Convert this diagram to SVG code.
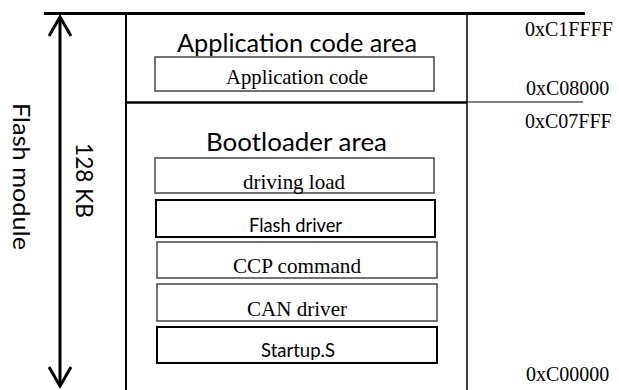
<svg xmlns="http://www.w3.org/2000/svg" width="619" height="390" viewBox="0 0 619 390">
  <style>
    .sans { font-family: Lato, "Noto Sans", "Liberation Sans", sans-serif; fill: #000; }
    .serif { font-family: "Liberation Serif", "Times New Roman", serif; fill: #000; }
    .title { font-size: 25px; text-anchor: middle; }
    .box { fill: #fff; stroke: #444; stroke-width: 1.5; }
    .box-dark { fill: #fff; stroke: #000; stroke-width: 2; }
    .label { font-size: 21px; text-anchor: middle; }
    .addr { font-size: 20px; }
    .frame { stroke: #000; fill: none; }
  </style>
  <defs>
    <marker id="chev" viewBox="-24 -14 28 28" markerWidth="28" markerHeight="28" refX="0" refY="0" orient="auto-start-reverse" markerUnits="userSpaceOnUse">
      <path d="M-19,-11 L0,0 L-19,11" fill="none" stroke="#000" stroke-width="3"/>
    </marker>
  </defs>
  <rect width="619" height="390" fill="#fff"/>

  <g id="memory-frame">
    <line class="frame" x1="44" y1="13.5" x2="585" y2="13.5" stroke-width="3"/>
    <line class="frame" x1="126" y1="13" x2="126" y2="390" stroke-width="2"/>
    <line class="frame" x1="467" y1="13" x2="467" y2="390" stroke-width="1.5"/>
    <line class="frame" x1="126" y1="102.5" x2="467" y2="102.5" stroke-width="2.5"/>
    <line class="frame" x1="467" y1="102" x2="583" y2="102" stroke-width="1"/>
  </g>

  <g id="application-area">
    <text class="sans title" x="297" y="52" textLength="240" lengthAdjust="spacingAndGlyphs">Application code area</text>
  </g>
  <g id="application-code">
    <rect class="box" x="155" y="57" width="279" height="34"/>
    <text class="serif label" x="297" y="84" textLength="142" lengthAdjust="spacingAndGlyphs">Application code</text>
  </g>

  <g id="bootloader-area">
    <text class="sans title" x="296.5" y="151" textLength="181" lengthAdjust="spacingAndGlyphs">Bootloader area</text>
  </g>
  <g id="driving-load">
    <rect class="box" x="155" y="158" width="279" height="35"/>
    <text class="serif label" x="294" y="189" textLength="102" lengthAdjust="spacingAndGlyphs">driving load</text>
  </g>
  <g id="flash-driver">
    <rect class="box-dark" x="156" y="200" width="279" height="37"/>
    <text class="sans label" style="font-size:20px" x="295.5" y="232" textLength="93" lengthAdjust="spacingAndGlyphs">Flash driver</text>
  </g>
  <g id="ccp-command">
    <rect class="box" x="157" y="242" width="280" height="36"/>
    <text class="serif label" x="297" y="273" textLength="128" lengthAdjust="spacingAndGlyphs">CCP command</text>
  </g>
  <g id="can-driver">
    <rect class="box" x="157" y="284" width="280" height="37"/>
    <text class="serif label" x="297" y="316" textLength="100" lengthAdjust="spacingAndGlyphs">CAN driver</text>
  </g>
  <g id="startup">
    <rect class="box-dark" x="157" y="327" width="280" height="36"/>
    <text class="sans label" style="font-size:20px" x="298" y="357" textLength="74" lengthAdjust="spacingAndGlyphs">Startup.S</text>
  </g>

  <g id="addresses">
    <text class="serif addr" x="525" y="36">0xC1FFFF</text>
    <text class="serif addr" x="526" y="95">0xC08000</text>
    <text class="serif addr" x="525" y="128">0xC07FFF</text>
    <text class="serif addr" x="526" y="381">0xC00000</text>
  </g>

  <g id="flash-module-label">
    <text class="sans" style="font-size:23px" transform="translate(13,103) rotate(90)" x="0" y="0" textLength="147" lengthAdjust="spacingAndGlyphs">Flash module</text>
  </g>
  <g id="size-label">
    <text class="sans" style="font-size:24px" transform="translate(76,143) rotate(90)" x="0" y="0" textLength="75" lengthAdjust="spacingAndGlyphs">128 KB</text>
  </g>

  <g id="connectors">
    <line x1="60" y1="17" x2="60" y2="386" stroke="#000" stroke-width="3" marker-start="url(#chev)" marker-end="url(#chev)"/>
  </g>
</svg>
